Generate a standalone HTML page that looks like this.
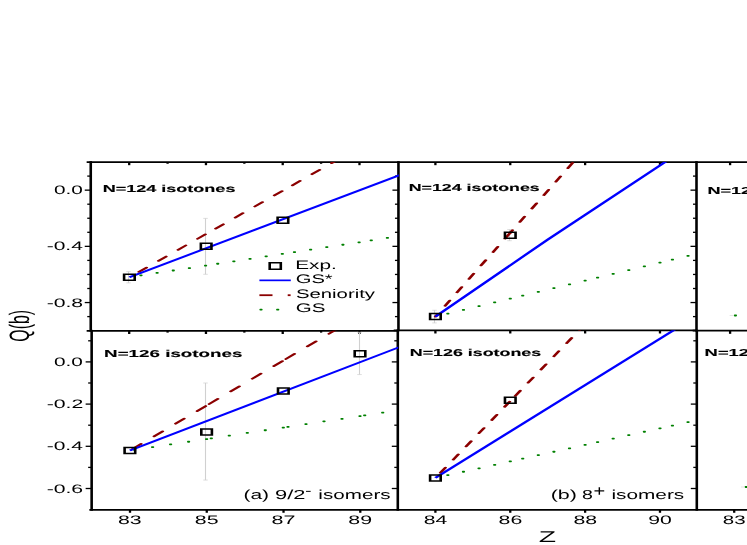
<!DOCTYPE html>
<html><head><meta charset="utf-8"><title>Q(b) vs Z</title>
<style>html,body{margin:0;padding:0;background:#fff}svg{display:block;will-change:transform;text-rendering:geometricPrecision}</style></head>
<body>
<svg width="747" height="545" viewBox="0 0 747 545" font-family="'Liberation Sans', sans-serif">
<rect width="747" height="545" fill="#fff"/>
<defs>
<clipPath id="ca1"><rect x="90.75" y="162.0" width="308.09999999999997" height="168.75"/></clipPath>
<clipPath id="ca2"><rect x="91.65" y="330.75" width="306.54999999999995" height="179.14999999999998"/></clipPath>
<clipPath id="cb1"><rect x="398.45" y="162.0" width="298.45" height="168.3"/></clipPath>
<clipPath id="cb2"><rect x="397.8" y="330.3" width="299.3999999999999" height="179.59999999999997"/></clipPath>
</defs>
<g stroke="#000" fill="none">
<line x1="86.65" y1="162.0" x2="747" y2="162.0" stroke-width="1.75"/>
<line x1="86.65" y1="330.85" x2="398.45" y2="330.85" stroke-width="1.75"/>
<line x1="393.70" y1="330.3" x2="696.5" y2="330.3" stroke-width="1.75"/>
<line x1="692.70" y1="330.65" x2="747" y2="330.65" stroke-width="1.75"/>
<line x1="89.35" y1="509.9" x2="747" y2="509.9" stroke-width="1.8"/>
<line x1="90.75" y1="161.12" x2="90.75" y2="331.62" stroke-width="2.6"/>
<line x1="91.65" y1="329.88" x2="91.65" y2="510.77" stroke-width="2.6"/>
<line x1="398.45" y1="161.12" x2="398.45" y2="331.18" stroke-width="2.6"/>
<line x1="397.8" y1="329.43" x2="397.8" y2="510.77" stroke-width="2.6"/>
<line x1="696.5" y1="161.12" x2="696.5" y2="331.52" stroke-width="2.6"/>
<line x1="696.8" y1="329.77" x2="696.8" y2="510.77" stroke-width="2.6"/>
<line x1="87.25" y1="316.60" x2="90.75" y2="316.60" stroke-width="1.3"/>
<line x1="84.75" y1="302.55" x2="90.75" y2="302.55" stroke-width="1.3"/>
<line x1="87.25" y1="288.50" x2="90.75" y2="288.50" stroke-width="1.3"/>
<line x1="87.25" y1="274.45" x2="90.75" y2="274.45" stroke-width="1.3"/>
<line x1="87.25" y1="260.40" x2="90.75" y2="260.40" stroke-width="1.3"/>
<line x1="84.75" y1="246.35" x2="90.75" y2="246.35" stroke-width="1.3"/>
<line x1="87.25" y1="232.30" x2="90.75" y2="232.30" stroke-width="1.3"/>
<line x1="87.25" y1="218.25" x2="90.75" y2="218.25" stroke-width="1.3"/>
<line x1="87.25" y1="204.20" x2="90.75" y2="204.20" stroke-width="1.3"/>
<line x1="84.75" y1="190.15" x2="90.75" y2="190.15" stroke-width="1.3"/>
<line x1="87.25" y1="176.10" x2="90.75" y2="176.10" stroke-width="1.3"/>
<line x1="85.65" y1="488.50" x2="91.65" y2="488.50" stroke-width="1.3"/>
<line x1="88.15" y1="467.40" x2="91.65" y2="467.40" stroke-width="1.3"/>
<line x1="85.65" y1="446.30" x2="91.65" y2="446.30" stroke-width="1.3"/>
<line x1="88.15" y1="425.20" x2="91.65" y2="425.20" stroke-width="1.3"/>
<line x1="85.65" y1="404.10" x2="91.65" y2="404.10" stroke-width="1.3"/>
<line x1="88.15" y1="383.00" x2="91.65" y2="383.00" stroke-width="1.3"/>
<line x1="85.65" y1="361.90" x2="91.65" y2="361.90" stroke-width="1.3"/>
<line x1="88.15" y1="340.80" x2="91.65" y2="340.80" stroke-width="1.3"/>
<line x1="394.95" y1="316.60" x2="398.45" y2="316.60" stroke-width="1.3"/>
<line x1="392.45" y1="302.55" x2="398.45" y2="302.55" stroke-width="1.3"/>
<line x1="394.95" y1="288.50" x2="398.45" y2="288.50" stroke-width="1.3"/>
<line x1="394.95" y1="274.45" x2="398.45" y2="274.45" stroke-width="1.3"/>
<line x1="394.95" y1="260.40" x2="398.45" y2="260.40" stroke-width="1.3"/>
<line x1="392.45" y1="246.35" x2="398.45" y2="246.35" stroke-width="1.3"/>
<line x1="394.95" y1="232.30" x2="398.45" y2="232.30" stroke-width="1.3"/>
<line x1="394.95" y1="218.25" x2="398.45" y2="218.25" stroke-width="1.3"/>
<line x1="394.95" y1="204.20" x2="398.45" y2="204.20" stroke-width="1.3"/>
<line x1="392.45" y1="190.15" x2="398.45" y2="190.15" stroke-width="1.3"/>
<line x1="394.95" y1="176.10" x2="398.45" y2="176.10" stroke-width="1.3"/>
<line x1="391.80" y1="488.50" x2="397.80" y2="488.50" stroke-width="1.3"/>
<line x1="394.30" y1="467.40" x2="397.80" y2="467.40" stroke-width="1.3"/>
<line x1="391.80" y1="446.30" x2="397.80" y2="446.30" stroke-width="1.3"/>
<line x1="394.30" y1="425.20" x2="397.80" y2="425.20" stroke-width="1.3"/>
<line x1="391.80" y1="404.10" x2="397.80" y2="404.10" stroke-width="1.3"/>
<line x1="394.30" y1="383.00" x2="397.80" y2="383.00" stroke-width="1.3"/>
<line x1="391.80" y1="361.90" x2="397.80" y2="361.90" stroke-width="1.3"/>
<line x1="394.30" y1="340.80" x2="397.80" y2="340.80" stroke-width="1.3"/>
<line x1="693.00" y1="316.60" x2="696.50" y2="316.60" stroke-width="1.3"/>
<line x1="690.50" y1="302.55" x2="696.50" y2="302.55" stroke-width="1.3"/>
<line x1="693.00" y1="288.50" x2="696.50" y2="288.50" stroke-width="1.3"/>
<line x1="693.00" y1="274.45" x2="696.50" y2="274.45" stroke-width="1.3"/>
<line x1="693.00" y1="260.40" x2="696.50" y2="260.40" stroke-width="1.3"/>
<line x1="690.50" y1="246.35" x2="696.50" y2="246.35" stroke-width="1.3"/>
<line x1="693.00" y1="232.30" x2="696.50" y2="232.30" stroke-width="1.3"/>
<line x1="693.00" y1="218.25" x2="696.50" y2="218.25" stroke-width="1.3"/>
<line x1="693.00" y1="204.20" x2="696.50" y2="204.20" stroke-width="1.3"/>
<line x1="690.50" y1="190.15" x2="696.50" y2="190.15" stroke-width="1.3"/>
<line x1="693.00" y1="176.10" x2="696.50" y2="176.10" stroke-width="1.3"/>
<line x1="690.80" y1="488.50" x2="696.80" y2="488.50" stroke-width="1.3"/>
<line x1="693.30" y1="467.40" x2="696.80" y2="467.40" stroke-width="1.3"/>
<line x1="690.80" y1="446.30" x2="696.80" y2="446.30" stroke-width="1.3"/>
<line x1="693.30" y1="425.20" x2="696.80" y2="425.20" stroke-width="1.3"/>
<line x1="690.80" y1="404.10" x2="696.80" y2="404.10" stroke-width="1.3"/>
<line x1="693.30" y1="383.00" x2="696.80" y2="383.00" stroke-width="1.3"/>
<line x1="690.80" y1="361.90" x2="696.80" y2="361.90" stroke-width="1.3"/>
<line x1="693.30" y1="340.80" x2="696.80" y2="340.80" stroke-width="1.3"/>
<line x1="129.20" y1="162.0" x2="129.20" y2="165.18" stroke-width="2.3"/>
<line x1="129.20" y1="330.85" x2="129.20" y2="334.03" stroke-width="2.3"/>
<line x1="167.58" y1="162.0" x2="167.58" y2="163.78" stroke-width="2.3"/>
<line x1="167.58" y1="330.85" x2="167.58" y2="332.62" stroke-width="2.3"/>
<line x1="205.96" y1="162.0" x2="205.96" y2="165.18" stroke-width="2.3"/>
<line x1="205.96" y1="330.85" x2="205.96" y2="334.03" stroke-width="2.3"/>
<line x1="244.34" y1="162.0" x2="244.34" y2="163.78" stroke-width="2.3"/>
<line x1="244.34" y1="330.85" x2="244.34" y2="332.62" stroke-width="2.3"/>
<line x1="282.72" y1="162.0" x2="282.72" y2="165.18" stroke-width="2.3"/>
<line x1="282.72" y1="330.85" x2="282.72" y2="334.03" stroke-width="2.3"/>
<line x1="321.10" y1="162.0" x2="321.10" y2="163.78" stroke-width="2.3"/>
<line x1="321.10" y1="330.85" x2="321.10" y2="332.62" stroke-width="2.3"/>
<line x1="359.48" y1="162.0" x2="359.48" y2="165.18" stroke-width="2.3"/>
<line x1="359.48" y1="330.85" x2="359.48" y2="334.03" stroke-width="2.3"/>
<line x1="435.40" y1="162.0" x2="435.40" y2="165.18" stroke-width="2.3"/>
<line x1="435.40" y1="330.3" x2="435.40" y2="333.48" stroke-width="2.3"/>
<line x1="510.26" y1="162.0" x2="510.26" y2="165.18" stroke-width="2.3"/>
<line x1="510.26" y1="330.3" x2="510.26" y2="333.48" stroke-width="2.3"/>
<line x1="585.12" y1="162.0" x2="585.12" y2="165.18" stroke-width="2.3"/>
<line x1="585.12" y1="330.3" x2="585.12" y2="333.48" stroke-width="2.3"/>
<line x1="659.98" y1="162.0" x2="659.98" y2="165.18" stroke-width="2.3"/>
<line x1="659.98" y1="330.3" x2="659.98" y2="333.48" stroke-width="2.3"/>
<line x1="730.1" y1="162.0" x2="730.1" y2="165.18" stroke-width="2.3"/>
<line x1="730.1" y1="330.65" x2="730.1" y2="333.82" stroke-width="2.3"/>
<line x1="130.00" y1="509.9" x2="130.00" y2="512.77" stroke-width="2.3"/>
<line x1="206.76" y1="509.9" x2="206.76" y2="512.77" stroke-width="2.3"/>
<line x1="283.52" y1="509.9" x2="283.52" y2="512.77" stroke-width="2.3"/>
<line x1="360.28" y1="509.9" x2="360.28" y2="512.77" stroke-width="2.3"/>
<line x1="435.40" y1="509.9" x2="435.40" y2="512.77" stroke-width="2.3"/>
<line x1="510.26" y1="509.9" x2="510.26" y2="512.77" stroke-width="2.3"/>
<line x1="585.12" y1="509.9" x2="585.12" y2="512.77" stroke-width="2.3"/>
<line x1="659.98" y1="509.9" x2="659.98" y2="512.77" stroke-width="2.3"/>
<line x1="734.2" y1="509.9" x2="734.2" y2="512.77" stroke-width="2.3"/>
</g>
<path d="M128.50 271.64V282.88" stroke="#d0d0d0" stroke-width="1.1" fill="none"/>
<path d="M126.25 271.64h4.5M126.25 282.88h4.5" stroke="#d0d0d0" stroke-width="0.7" fill="none"/>
<path d="M205.50 218.40V274.30" stroke="#d0d0d0" stroke-width="1.1" fill="none"/>
<path d="M203.25 218.40h4.5M203.25 274.30h4.5" stroke="#d0d0d0" stroke-width="0.7" fill="none"/>
<g clip-path="url(#ca1)" fill="#008000">
<rect x="203.96" y="264.70" width="3.2" height="1.8" rx="0.8" ry="0.8"/>
<rect x="187.81" y="267.15" width="3.2" height="1.8" rx="0.8" ry="0.8"/>
<rect x="171.66" y="269.61" width="3.2" height="1.8" rx="0.8" ry="0.8"/>
<rect x="155.51" y="272.06" width="3.2" height="1.8" rx="0.8" ry="0.8"/>
<rect x="139.36" y="274.51" width="3.2" height="1.8" rx="0.8" ry="0.8"/>
<rect x="280.72" y="253.04" width="3.2" height="1.8" rx="0.8" ry="0.8"/>
<rect x="264.57" y="255.49" width="3.2" height="1.8" rx="0.8" ry="0.8"/>
<rect x="248.42" y="257.94" width="3.2" height="1.8" rx="0.8" ry="0.8"/>
<rect x="232.27" y="260.40" width="3.2" height="1.8" rx="0.8" ry="0.8"/>
<rect x="216.12" y="262.85" width="3.2" height="1.8" rx="0.8" ry="0.8"/>
<rect x="357.48" y="241.38" width="3.2" height="1.8" rx="0.8" ry="0.8"/>
<rect x="341.33" y="243.83" width="3.2" height="1.8" rx="0.8" ry="0.8"/>
<rect x="325.18" y="246.28" width="3.2" height="1.8" rx="0.8" ry="0.8"/>
<rect x="309.03" y="248.74" width="3.2" height="1.8" rx="0.8" ry="0.8"/>
<rect x="292.88" y="251.19" width="3.2" height="1.8" rx="0.8" ry="0.8"/>
<rect x="385.79" y="237.07" width="3.2" height="1.8" rx="0.8" ry="0.8"/>
<rect x="369.64" y="239.53" width="3.2" height="1.8" rx="0.8" ry="0.8"/>
</g>
<g clip-path="url(#ca1)" stroke="#8b0000" stroke-width="1.75" fill="none" stroke-linecap="round" stroke-dasharray="6.04 9.46" stroke-dashoffset="-0.70">
<line transform="scale(1.8,1)" x1="114.533" y1="233.955" x2="71.889" y2="277.260"/>
<line transform="scale(1.8,1)" x1="157.178" y1="190.650" x2="114.533" y2="233.955"/>
<line transform="scale(1.8,1)" x1="199.822" y1="147.346" x2="157.178" y2="190.650"/>
<line transform="scale(1.8,1)" x1="242.467" y1="104.041" x2="199.822" y2="147.346"/>
</g>
<g clip-path="url(#ca1)"><line transform="scale(1.8,1)" x1="71.889" y1="277.260" x2="242.467" y2="161.151" stroke="#0000ff" stroke-width="1.8"/></g>
<path d="M205.50 383.00V480.06" stroke="#d0d0d0" stroke-width="1.1" fill="none"/>
<path d="M203.25 383.00h4.5M203.25 480.06h4.5" stroke="#d0d0d0" stroke-width="0.7" fill="none"/>
<path d="M359.50 332.36V374.56" stroke="#d0d0d0" stroke-width="1.1" fill="none"/>
<path d="M357.25 332.36h4.5M357.25 374.56h4.5" stroke="#d0d0d0" stroke-width="0.7" fill="none"/>
<g clip-path="url(#ca2)" fill="#008000">
<rect x="205.00" y="438.14" width="3.2" height="1.8" rx="0.8" ry="0.8"/>
<rect x="187.00" y="440.84" width="3.2" height="1.8" rx="0.8" ry="0.8"/>
<rect x="169.00" y="443.53" width="3.2" height="1.8" rx="0.8" ry="0.8"/>
<rect x="151.00" y="446.22" width="3.2" height="1.8" rx="0.8" ry="0.8"/>
<rect x="133.00" y="448.92" width="3.2" height="1.8" rx="0.8" ry="0.8"/>
<rect x="281.70" y="426.66" width="3.2" height="1.8" rx="0.8" ry="0.8"/>
<rect x="263.70" y="429.36" width="3.2" height="1.8" rx="0.8" ry="0.8"/>
<rect x="245.70" y="432.05" width="3.2" height="1.8" rx="0.8" ry="0.8"/>
<rect x="227.70" y="434.74" width="3.2" height="1.8" rx="0.8" ry="0.8"/>
<rect x="209.70" y="437.44" width="3.2" height="1.8" rx="0.8" ry="0.8"/>
<rect x="358.40" y="415.18" width="3.2" height="1.8" rx="0.8" ry="0.8"/>
<rect x="340.40" y="417.88" width="3.2" height="1.8" rx="0.8" ry="0.8"/>
<rect x="322.40" y="420.57" width="3.2" height="1.8" rx="0.8" ry="0.8"/>
<rect x="304.40" y="423.27" width="3.2" height="1.8" rx="0.8" ry="0.8"/>
<rect x="286.40" y="425.96" width="3.2" height="1.8" rx="0.8" ry="0.8"/>
<rect x="381.10" y="411.79" width="3.2" height="1.8" rx="0.8" ry="0.8"/>
<rect x="363.10" y="414.48" width="3.2" height="1.8" rx="0.8" ry="0.8"/>
</g>
<g clip-path="url(#ca2)" stroke="#8b0000" stroke-width="1.75" fill="none" stroke-linecap="round" stroke-dasharray="6.95 10.45" stroke-dashoffset="-0.70">
<line transform="scale(1.8,1)" x1="114.778" y1="405.535" x2="72.167" y2="450.520"/>
<line transform="scale(1.8,1)" x1="157.389" y1="360.551" x2="114.778" y2="405.535"/>
<line transform="scale(1.8,1)" x1="200.000" y1="315.566" x2="157.389" y2="360.551"/>
<line transform="scale(1.8,1)" x1="242.611" y1="270.582" x2="200.000" y2="315.566"/>
</g>
<g clip-path="url(#ca2)"><line transform="scale(1.8,1)" x1="72.167" y1="450.520" x2="238.833" y2="335.380" stroke="#0000ff" stroke-width="1.8"/></g>
<path d="M434.50 310.28V322.92" stroke="#d0d0d0" stroke-width="1.1" fill="none"/>
<path d="M432.25 310.28h4.5M432.25 322.92h4.5" stroke="#d0d0d0" stroke-width="0.7" fill="none"/>
<path d="M509.50 229.49V240.73" stroke="#d0d0d0" stroke-width="1.1" fill="none"/>
<path d="M507.25 229.49h4.5M507.25 240.73h4.5" stroke="#d0d0d0" stroke-width="0.7" fill="none"/>
<g clip-path="url(#cb1)" fill="#008000">
<rect x="508.66" y="297.69" width="3.2" height="1.8" rx="0.8" ry="0.8"/>
<rect x="493.06" y="301.44" width="3.2" height="1.8" rx="0.8" ry="0.8"/>
<rect x="477.46" y="305.19" width="3.2" height="1.8" rx="0.8" ry="0.8"/>
<rect x="461.86" y="308.95" width="3.2" height="1.8" rx="0.8" ry="0.8"/>
<rect x="446.26" y="312.70" width="3.2" height="1.8" rx="0.8" ry="0.8"/>
<rect x="583.52" y="279.68" width="3.2" height="1.8" rx="0.8" ry="0.8"/>
<rect x="567.92" y="283.43" width="3.2" height="1.8" rx="0.8" ry="0.8"/>
<rect x="552.32" y="287.18" width="3.2" height="1.8" rx="0.8" ry="0.8"/>
<rect x="536.72" y="290.94" width="3.2" height="1.8" rx="0.8" ry="0.8"/>
<rect x="521.12" y="294.69" width="3.2" height="1.8" rx="0.8" ry="0.8"/>
<rect x="658.38" y="261.66" width="3.2" height="1.8" rx="0.8" ry="0.8"/>
<rect x="642.78" y="265.42" width="3.2" height="1.8" rx="0.8" ry="0.8"/>
<rect x="627.18" y="269.17" width="3.2" height="1.8" rx="0.8" ry="0.8"/>
<rect x="611.58" y="272.92" width="3.2" height="1.8" rx="0.8" ry="0.8"/>
<rect x="595.98" y="276.68" width="3.2" height="1.8" rx="0.8" ry="0.8"/>
<rect x="686.44" y="254.91" width="3.2" height="1.8" rx="0.8" ry="0.8"/>
<rect x="670.84" y="258.67" width="3.2" height="1.8" rx="0.8" ry="0.8"/>
</g>
<g clip-path="url(#cb1)" stroke="#8b0000" stroke-width="1.75" fill="none" stroke-linecap="round" stroke-dasharray="5.80 9.20" stroke-dashoffset="-0.70">
<line transform="scale(1.8,1)" x1="283.478" y1="232.757" x2="241.889" y2="316.600"/>
<line transform="scale(1.8,1)" x1="325.067" y1="148.914" x2="283.478" y2="232.757"/>
<line transform="scale(1.8,1)" x1="366.656" y1="65.070" x2="325.067" y2="148.914"/>
</g>
<g clip-path="url(#cb1)"><polyline transform="scale(1.8,1)" points="241.889,316.600 304.278,239.6 393.167,133.920" fill="none" stroke="#0000ff" stroke-width="1.8"/></g>
<g clip-path="url(#cb2)" fill="#008000">
<rect x="508.66" y="460.51" width="3.2" height="1.8" rx="0.8" ry="0.8"/>
<rect x="493.06" y="463.95" width="3.2" height="1.8" rx="0.8" ry="0.8"/>
<rect x="477.46" y="467.40" width="3.2" height="1.8" rx="0.8" ry="0.8"/>
<rect x="461.86" y="470.85" width="3.2" height="1.8" rx="0.8" ry="0.8"/>
<rect x="446.26" y="474.30" width="3.2" height="1.8" rx="0.8" ry="0.8"/>
<rect x="583.52" y="443.97" width="3.2" height="1.8" rx="0.8" ry="0.8"/>
<rect x="567.92" y="447.41" width="3.2" height="1.8" rx="0.8" ry="0.8"/>
<rect x="552.32" y="450.86" width="3.2" height="1.8" rx="0.8" ry="0.8"/>
<rect x="536.72" y="454.31" width="3.2" height="1.8" rx="0.8" ry="0.8"/>
<rect x="521.12" y="457.75" width="3.2" height="1.8" rx="0.8" ry="0.8"/>
<rect x="658.38" y="427.42" width="3.2" height="1.8" rx="0.8" ry="0.8"/>
<rect x="642.78" y="430.87" width="3.2" height="1.8" rx="0.8" ry="0.8"/>
<rect x="627.18" y="434.32" width="3.2" height="1.8" rx="0.8" ry="0.8"/>
<rect x="611.58" y="437.76" width="3.2" height="1.8" rx="0.8" ry="0.8"/>
<rect x="595.98" y="441.21" width="3.2" height="1.8" rx="0.8" ry="0.8"/>
<rect x="686.44" y="421.22" width="3.2" height="1.8" rx="0.8" ry="0.8"/>
<rect x="670.84" y="424.67" width="3.2" height="1.8" rx="0.8" ry="0.8"/>
</g>
<g clip-path="url(#cb2)" stroke="#8b0000" stroke-width="1.75" fill="none" stroke-linecap="round" stroke-dasharray="5.80 9.20" stroke-dashoffset="-0.70">
<line transform="scale(1.8,1)" x1="283.478" y1="401.069" x2="241.889" y2="477.950"/>
<line transform="scale(1.8,1)" x1="325.067" y1="324.188" x2="283.478" y2="401.069"/>
<line transform="scale(1.8,1)" x1="366.656" y1="247.306" x2="325.067" y2="324.188"/>
</g>
<g clip-path="url(#cb2)"><line transform="scale(1.8,1)" x1="241.889" y1="477.950" x2="408.556" y2="291.950" stroke="#0000ff" stroke-width="1.8"/></g>
<rect x="729.6" y="315.0" width="3.6" height="1" fill="#e6e6e6"/>
<rect x="741.0" y="486.5" width="3.0" height="1" fill="#e6e6e6"/>
<rect x="733.8" y="314.6" width="3.2" height="1.8" rx="0.8" ry="0.8" fill="#008000"/>
<rect x="744.6" y="486.1" width="3.2" height="1.8" rx="0.8" ry="0.8" fill="#008000"/>
<path fill-rule="evenodd" fill="#000" d="M122.80 273.51h13.2v7.5h-13.2z M125.40 275.01h8.00v4.50h-8.00z"/>
<path fill-rule="evenodd" fill="#000" d="M199.56 242.60h13.2v7.5h-13.2z M202.16 244.10h8.00v4.50h-8.00z"/>
<path fill-rule="evenodd" fill="#000" d="M276.32 216.47h13.2v7.5h-13.2z M278.92 217.97h8.00v4.50h-8.00z"/>
<path fill-rule="evenodd" fill="#000" d="M123.30 446.77h13.2v7.5h-13.2z M125.90 448.27h8.00v4.50h-8.00z"/>
<path fill-rule="evenodd" fill="#000" d="M200.00 428.20h13.2v7.5h-13.2z M202.60 429.70h8.00v4.50h-8.00z"/>
<path fill-rule="evenodd" fill="#000" d="M276.70 387.27h13.2v7.5h-13.2z M279.30 388.77h8.00v4.50h-8.00z"/>
<path fill-rule="evenodd" fill="#000" d="M353.40 349.92h13.2v7.5h-13.2z M356.00 351.42h8.00v4.50h-8.00z"/>
<path fill-rule="evenodd" fill="#000" d="M428.80 312.85h13.2v7.5h-13.2z M431.40 314.35h8.00v4.50h-8.00z"/>
<path fill-rule="evenodd" fill="#000" d="M503.66 231.50h13.2v7.5h-13.2z M506.26 233.00h8.00v4.50h-8.00z"/>
<path fill-rule="evenodd" fill="#000" d="M428.80 474.20h13.2v7.5h-13.2z M431.40 475.70h8.00v4.50h-8.00z"/>
<path fill-rule="evenodd" fill="#000" d="M503.66 396.55h13.2v7.5h-13.2z M506.26 398.05h8.00v4.50h-8.00z"/>
<text transform="translate(53.97,194.26) scale(0.2084,0.1230)" font-size="100" fill="#000">0.0</text>
<text transform="translate(46.65,250.46) scale(0.2103,0.1230)" font-size="100" fill="#000">-0.4</text>
<text transform="translate(46.65,306.66) scale(0.2116,0.1230)" font-size="100" fill="#000">-0.8</text>
<text transform="translate(53.97,366.00) scale(0.2084,0.1230)" font-size="100" fill="#000">0.0</text>
<text transform="translate(46.64,408.20) scale(0.2129,0.1230)" font-size="100" fill="#000">-0.2</text>
<text transform="translate(46.65,450.40) scale(0.2103,0.1230)" font-size="100" fill="#000">-0.4</text>
<text transform="translate(46.65,492.61) scale(0.2116,0.1230)" font-size="100" fill="#000">-0.6</text>
<text transform="translate(118.04,524.00) scale(0.2127,0.1230)" font-size="100" fill="#000">83</text>
<text transform="translate(194.80,524.00) scale(0.2127,0.1230)" font-size="100" fill="#000">85</text>
<text transform="translate(271.55,524.00) scale(0.2148,0.1230)" font-size="100" fill="#000">87</text>
<text transform="translate(348.32,524.00) scale(0.2137,0.1230)" font-size="100" fill="#000">89</text>
<text transform="translate(423.75,524.00) scale(0.2106,0.1230)" font-size="100" fill="#000">84</text>
<text transform="translate(498.60,524.00) scale(0.2127,0.1230)" font-size="100" fill="#000">86</text>
<text transform="translate(573.46,524.00) scale(0.2127,0.1230)" font-size="100" fill="#000">88</text>
<text transform="translate(648.33,524.00) scale(0.2117,0.1230)" font-size="100" fill="#000">90</text>
<text transform="translate(722.78,524.00) scale(0.2049,0.1230)" font-size="100" fill="#000">83</text>
<text transform="translate(538.75,541.90) scale(0.2836,0.1560)" font-size="100" fill="#000">Z</text>
<text transform="translate(28.92,341.71) rotate(-90) scale(0.1587,0.2802)" font-size="100">Q(b)</text>
<text transform="translate(102.63,191.85) scale(0.1803,0.1010)" font-size="100" font-weight="bold" stroke="#000" stroke-width="1.2" fill="#000">N=124 isotones</text>
<text transform="translate(104.08,357.00) scale(0.1879,0.1010)" font-size="100" font-weight="bold" stroke="#000" stroke-width="1.2" fill="#000">N=126 isotones</text>
<text transform="translate(408.74,191.45) scale(0.1778,0.1010)" font-size="100" font-weight="bold" stroke="#000" stroke-width="1.2" fill="#000">N=124 isotones</text>
<text transform="translate(409.74,356.10) scale(0.1785,0.1010)" font-size="100" font-weight="bold" stroke="#000" stroke-width="1.2" fill="#000">N=126 isotones</text>
<text transform="translate(707.43,193.60) scale(0.1804,0.1010)" font-size="100" font-weight="bold" stroke="#000" stroke-width="1.2" fill="#000">N=124 isotones</text>
<text transform="translate(704.60,355.90) scale(0.1839,0.1010)" font-size="100" font-weight="bold" stroke="#000" stroke-width="1.2" fill="#000">N=126 isotones</text>
<text transform="translate(295.13,268.80) scale(0.2082,0.1240)" font-size="100" fill="#000">Exp.</text>
<text transform="translate(295.79,283.30) scale(0.2011,0.1240)" font-size="100" fill="#000">GS*</text>
<text transform="translate(295.88,297.80) scale(0.2034,0.1240)" font-size="100" fill="#000">Seniority</text>
<text transform="translate(295.77,312.00) scale(0.2052,0.1240)" font-size="100" fill="#000">GS</text>
<path fill-rule="evenodd" fill="#000" d="M268.40 262.10h13.7v7.9h-13.7z M271.00 263.60h8.50v4.90h-8.50z"/>
<line x1="259.4" y1="280.35" x2="290.8" y2="280.35" stroke="#0000ff" stroke-width="1.7"/>
<line x1="259.4" y1="295.2" x2="272.5" y2="295.2" stroke="#8b0000" stroke-width="1.8"/>
<rect x="287.7" y="294.3" width="2.9" height="1.8" fill="#8b0000"/>
<rect x="259.4" y="308.7" width="3.2" height="1.8" rx="0.8" ry="0.8" fill="#008000"/>
<rect x="276.09999999999997" y="308.7" width="3.2" height="1.8" rx="0.8" ry="0.8" fill="#008000"/>
<text transform="translate(243.44,499.30) scale(0.2100,0.1300)" font-size="100" fill="#000">(a)</text>
<text transform="translate(275.02,499.30) scale(0.2185,0.1300)" font-size="100" fill="#000">9/2</text>
<text transform="translate(305.52,495.59) scale(0.0969,0.1400)" font-size="100" fill="#000">−</text>
<text transform="translate(318.36,499.30) scale(0.2065,0.1300)" font-size="100" fill="#000">isomers</text>
<text transform="translate(550.71,498.80) scale(0.2145,0.1300)" font-size="100" fill="#000">(b)</text>
<text transform="translate(581.92,498.80) scale(0.1957,0.1300)" font-size="100" fill="#000">8</text>
<text transform="translate(593.60,496.38) scale(0.2000,0.1530)" font-size="100" fill="#000">+</text>
<text transform="translate(611.45,498.80) scale(0.2079,0.1300)" font-size="100" fill="#000">isomers</text>
</svg>
</body></html>
